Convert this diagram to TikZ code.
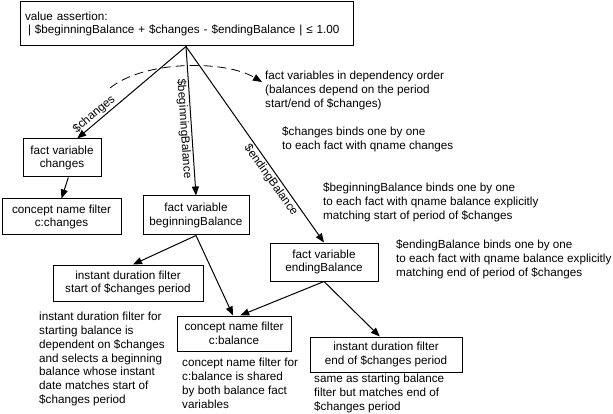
\documentclass[tikz,border=0pt]{standalone}
\usepackage{fontspec}
\setmainfont{Liberation Sans}
\usetikzlibrary{arrows.meta,positioning,calc}
\tikzstyle{box}=[draw, line width=1pt, align=center, inner sep=0pt]

\begin{document}
\begin{tikzpicture}[x=1pt,y=-1pt,font=\fontsize{11.7}{13.8}\selectfont,
  arr/.style={line width=1pt,-{Triangle[length=9pt,width=7pt]}},
  note/.style={anchor=north west, align=left, inner sep=0pt},
  lbl/.style={sloped, inner sep=1.5pt}]
\useasboundingbox (0,0) rectangle (613,414);
\node (va) at (186.5,24) [box, minimum width=333pt, minimum height=44pt, text width=323pt, align=left] {value assertion:\\\hspace*{3pt}| \$beginningBalance + \$changes - \$endingBalance | ≤ 1.00};
\coordinate (apex) at ($(va.south)+(-0.5,0)$);
\node (fc) at (62,158) [box, minimum width=78pt, minimum height=38pt] {fact variable\\changes};
\node (cc) at (61.5,217) [box, minimum width=119pt, minimum height=36pt] {concept name filter\\c:changes};
\node (fb) at (196,215.5) [box, minimum width=106pt, minimum height=39pt] {fact variable\\beginningBalance};
\node (fe) at (324,262) [box, minimum width=108pt, minimum height=38pt] {fact variable\\endingBalance};
\node (ds) at (128,283) [box, minimum width=150pt, minimum height=36pt] {instant duration filter\\start of \$changes period};
\node (cb) at (234,333.5) [box, minimum width=114pt, minimum height=35pt] {concept name filter\\c:balance};
\node (de) at (386,354.5) [box, minimum width=152pt, minimum height=35pt] {instant duration filter\\end of \$changes period};
% notes
\node (t0) at (265,71) [note] {fact variables in dependency order\\(balances depend on the period\\start/end of \$changes)};
\node (t1) at (282,127) [note] {\$changes binds one by one\\to each fact with qname changes};
\node (t2) at (323,183) [note] {\$beginningBalance binds one by one\\to each fact with qname balance explicitly\\matching start of period of \$changes};
\node (t3) at (396,240) [note] {\$endingBalance binds one by one\\to each fact with qname balance explicitly\\matching end of period of \$changes};
\node (t4) at (39,312) [note] {instant duration filter for\\starting balance is\\dependent on \$changes\\and selects a beginning\\balance whose instant\\date matches start of\\\$changes period};
\node (t5) at (182,358) [note] {concept name filter for\\c:balance is shared\\by both balance fact\\variables};
\node (t6) at (314,374) [note] {same as starting balance\\filter but matches end of\\\$changes period};
% dependency order
\coordinate (arcA) at (110,88);
\coordinate (arcB) at (262,82);
\draw [arr, line width=0.8pt, dash pattern=on 9pt off 5pt] (arcA) .. controls (145,60) and (225,60) .. (arcB);
% variables and filters
\draw (apex) edge [arr] node [lbl, above, pos=0.8] {\$changes} (fc.52);
\draw (apex) edge [arr] node [lbl, below, pos=0.55] {\$beginningBalance} (fb.north);
\draw (apex) edge [arr] node [lbl, below, pos=0.66] {\$endingBalance} (fe.north);
\draw (fc.-72) edge [arr] (cc.north);
\draw (fb.south) edge [arr] (ds.75);
\draw (fb.south) edge [arr] (cb.93);
\draw (fe.south) edge [arr] (cb.71);
\draw (fe.south) edge [arr] (de.109);
\end{tikzpicture}
\end{document}
